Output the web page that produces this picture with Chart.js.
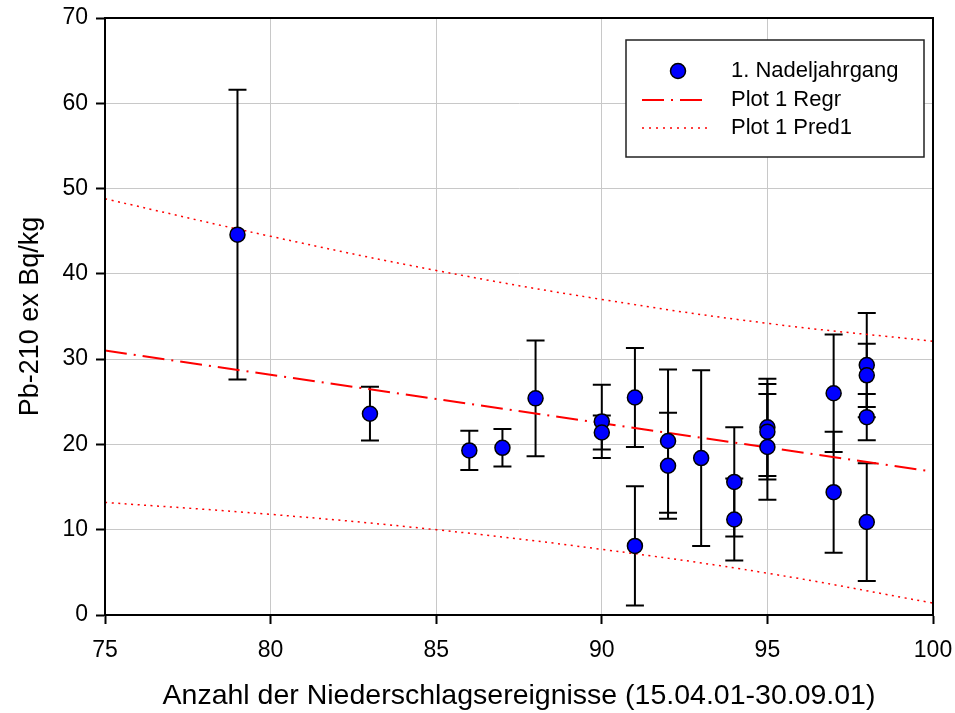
<!DOCTYPE html>
<html>
<head>
<meta charset="utf-8">
<script src="https://cdn.jsdelivr.net/npm/chart.js@4.4.1/dist/chart.umd.min.js"></script>
<style>
  html, body { margin: 0; padding: 0; background: #fff; }
  #wrap { width: 955px; height: 713px; }
</style>
</head>
<body>
<div id="wrap"><canvas id="chart" width="955" height="713"></canvas></div>
<script>
// --- DATA ---
const xVals = [79, 83, 86, 87, 88, 90, 90, 91, 91, 92, 92, 93, 94, 94, 95, 95, 95, 97, 97, 98, 98, 98, 98];
const yVals = [44.6, 23.6, 19.3, 19.6, 25.4, 22.7, 21.4, 25.5, 8.1, 20.4, 17.5, 18.4, 15.6, 11.2, 22.0, 21.5, 19.7, 26.0, 14.4, 29.3, 28.1, 23.2, 10.9];
const yErr  = [17.0, 3.15, 2.3, 2.2, 6.8, 4.3, 2.0, 5.8, 7.0, 8.4, 6.2, 10.3, 6.4, 4.8, 5.7, 5.6, 6.2, 6.9, 7.1, 6.1, 3.7, 2.7, 6.9];

const regrX = [75, 100];
const regrY = [31.0, 16.8];

const predX = [75, 80, 85, 90, 95, 100];
const predUpper = [48.8, 44.4, 40.4, 37.0, 34.2, 32.1];
const predLower = [13.2, 11.8, 10.0, 7.7, 4.9, 1.4];

const xTicks = [75, 80, 85, 90, 95, 100];
const yTicks = [0, 10, 20, 30, 40, 50, 60, 70];

const FONT = "'Liberation Sans', Arial, sans-serif";

const toPts = (xs, ys) => xs.map((x, i) => ({ x: x, y: ys[i] }));

// --- ERROR BARS (drawn under the points) ---
const errorBars = {
    id: 'errorBars',
    beforeDatasetsDraw(chart) {
        const { ctx, scales: { x, y } } = chart;
        ctx.save();
        ctx.strokeStyle = '#000';
        ctx.lineWidth = 2;
        xVals.forEach((xv, i) => {
            const px = x.getPixelForValue(xv);
            const top = y.getPixelForValue(yVals[i] + yErr[i]);
            const bot = y.getPixelForValue(yVals[i] - yErr[i]);
            ctx.beginPath();
            ctx.moveTo(px, top); ctx.lineTo(px, bot);
            ctx.moveTo(px - 9, top); ctx.lineTo(px + 9, top);
            ctx.moveTo(px - 9, bot); ctx.lineTo(px + 9, bot);
            ctx.stroke();
        });
        ctx.restore();
    }
};

// --- FRAME + LEGEND BOX ---
const frameAndLegend = {
    id: 'frameAndLegend',
    afterDraw(chart) {
        const { ctx, chartArea: a } = chart;
        ctx.save();
        ctx.strokeStyle = '#000';
        ctx.lineWidth = 2;
        ctx.strokeRect(a.left, a.top, a.right - a.left, a.bottom - a.top);

        // legend
        const bx = 626, by = 40, bw = 298, bh = 117;
        ctx.fillStyle = '#fff';
        ctx.fillRect(bx, by, bw, bh);
        ctx.lineWidth = 1.5;
        ctx.strokeStyle = '#222';
        ctx.strokeRect(bx, by, bw, bh);

        const rows = [71, 100, 128];
        // point symbol
        ctx.beginPath();
        ctx.arc(678, rows[0], 7.5, 0, Math.PI * 2);
        ctx.fillStyle = '#0000ff';
        ctx.fill();
        ctx.lineWidth = 1.5;
        ctx.strokeStyle = '#000';
        ctx.stroke();
        // regression line
        ctx.strokeStyle = '#ff0000';
        ctx.lineWidth = 2;
        ctx.setLineDash([22, 7, 2, 7]);
        ctx.beginPath(); ctx.moveTo(642, rows[1]); ctx.lineTo(707, rows[1]); ctx.stroke();
        // prediction line
        ctx.lineWidth = 1.5;
        ctx.setLineDash([2, 5]);
        ctx.beginPath(); ctx.moveTo(642, rows[2]); ctx.lineTo(707, rows[2]); ctx.stroke();
        ctx.setLineDash([]);

        ctx.fillStyle = '#000';
        ctx.font = '22px ' + FONT;
        ctx.textBaseline = 'middle';
        ctx.fillText('1. Nadeljahrgang', 731, rows[0]);
        ctx.fillText('Plot 1 Regr', 731, rows[1]);
        ctx.fillText('Plot 1 Pred1', 731, rows[2]);
        ctx.restore();
    }
};

new Chart(document.getElementById('chart').getContext('2d'), {
    type: 'scatter',
    data: {
        datasets: [
            {
                label: '1. Nadeljahrgang',
                data: toPts(xVals, yVals),
                backgroundColor: '#0000ff',
                borderColor: '#000',
                borderWidth: 1.5,
                pointRadius: 7.5,
            },
            {
                label: 'Plot 1 Regr',
                data: toPts(regrX, regrY),
                showLine: true,
                borderColor: '#ff0000',
                borderWidth: 2,
                borderDash: [22, 7, 2, 7],
                pointRadius: 0,
            },
            {
                label: 'Plot 1 Pred1',
                data: toPts(predX, predUpper),
                showLine: true,
                tension: 0.4,
                borderColor: '#ff0000',
                borderWidth: 1.5,
                borderDash: [2, 4.5],
                pointRadius: 0,
            },
            {
                label: 'Plot 1 Pred1',
                data: toPts(predX, predLower),
                showLine: true,
                tension: 0.4,
                borderColor: '#ff0000',
                borderWidth: 1.5,
                borderDash: [2, 4.5],
                pointRadius: 0,
            }
        ]
    },
    options: {
        responsive: false,
        animation: false,
        layout: { padding: { top: 18, right: 22, left: 0, bottom: 0 } },
        plugins: { legend: { display: false }, tooltip: { enabled: false } },
        scales: {
            x: {
                type: 'linear',
                min: 75, max: 100,
                afterBuildTicks: (s) => { s.ticks = xTicks.map(v => ({ value: v })); },
                afterFit: (s) => { s.height = 98; s.paddingLeft = 0; s.paddingRight = 0; },
                grid: { color: '#c8c8c8', lineWidth: 1, tickColor: '#000', tickLength: 9, tickWidth: 2 },
                border: { color: '#000', width: 2 },
                ticks: { color: '#000', padding: 13, font: { family: FONT, size: 23 } },
                title: {
                    display: true,
                    text: 'Anzahl der Niederschlagsereignisse (15.04.01-30.09.01)',
                    color: '#000',
                    font: { family: FONT, size: 28.5 },
                    padding: { top: 0, bottom: 0 }
                }
            },
            y: {
                type: 'linear',
                min: 0, max: 70,
                afterBuildTicks: (s) => { s.ticks = yTicks.map(v => ({ value: v })); },
                afterFit: (s) => { s.width = 105; s.paddingTop = 0; s.paddingBottom = 0; },
                grid: { color: '#c8c8c8', lineWidth: 1, tickColor: '#000', tickLength: 9, tickWidth: 2 },
                border: { color: '#000', width: 2 },
                ticks: { color: '#000', padding: 8, font: { family: FONT, size: 23 } },
                title: {
                    display: true,
                    text: 'Pb-210 ex Bq/kg',
                    color: '#000',
                    font: { family: FONT, size: 27 },
                    padding: { top: 14, bottom: 0 }
                }
            }
        }
    },
    plugins: [errorBars, frameAndLegend]
});
</script>
</body>
</html>
